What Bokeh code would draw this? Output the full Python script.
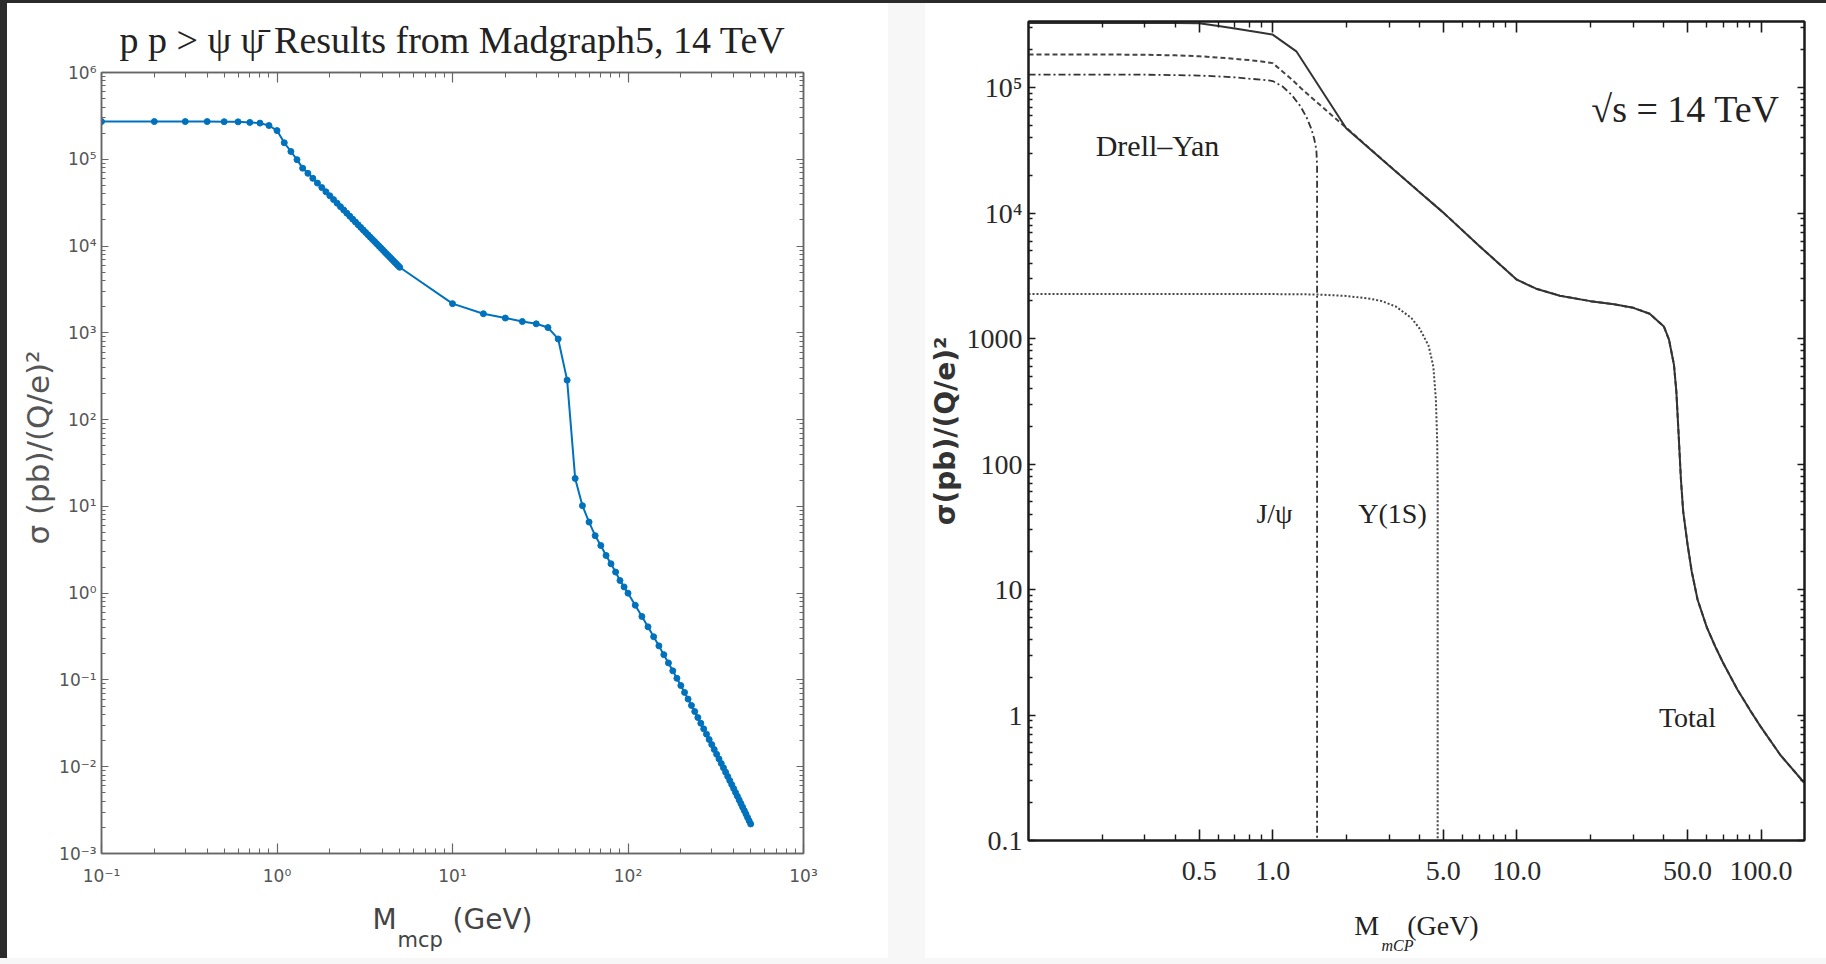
from bokeh.plotting import figure
from bokeh.models import Label, FixedTicker, LogAxis, Range1d, Spacer, CustomJSTickFormatter, Title
from bokeh.layouts import row, column
from bokeh.embed import file_html
from bokeh.resources import INLINE

# ---------------------------------------------------------------------------
# Madgraph5 scan: p p > psi psibar, 14 TeV  (mass in GeV, sigma in pb/(Q/e)^2)
# ---------------------------------------------------------------------------
mg_mass = [
    0.1, 0.2, 0.3, 0.4, 0.5, 0.6, 0.7, 0.8, 0.9, 1.0,
    1.1, 1.2, 1.3, 1.4, 1.5, 1.6, 1.7, 1.8, 1.9, 2.0,
    2.1, 2.2, 2.3, 2.4, 2.5, 2.6, 2.7, 2.8, 2.9, 3.0,
    3.1, 3.2, 3.3, 3.4, 3.5, 3.6, 3.7, 3.8, 3.9, 4.0,
    4.1, 4.2, 4.3, 4.4, 4.5, 4.6, 4.7, 4.8, 4.9, 5.0,
    10, 15, 20, 25, 30, 35, 40, 45,
    50, 55, 60, 65, 70, 75, 80, 85, 90, 95,
    100, 110, 120, 130, 140, 150, 160, 170, 180, 190,
    200, 210, 220, 230, 240, 250, 260, 270, 280, 290,
    300, 310, 320, 330, 340, 350, 360, 370, 380, 390,
    400, 410, 420, 430, 440, 450, 460, 470, 480, 490,
    500,
]
mg_sigma = [
    2.72e5, 2.72e5, 2.72e5, 2.72e5, 2.71e5, 2.70e5, 2.66e5, 2.61e5, 2.45e5, 2.14e5,
    1.55e5, 1.23e5, 9.9e4, 7.9e4, 6.89e4, 6.03e4, 5.315e4, 4.722e4, 4.222e4, 3.797e4,
    3.431e4, 3.117e4, 2.843e4, 2.603e4, 2.392e4, 2.206e4, 2.040e4, 1.892e4, 1.760e4, 1.640e4,
    1.533e4, 1.435e4, 1.347e4, 1.266e4, 1.192e4, 1.125e4, 1.063e4, 1.005e4, 9530, 9040,
    8590, 8170, 7785, 7420, 7085, 6770, 6475, 6200, 5940, 5695,
    2170, 1660, 1480, 1350, 1270, 1150, 850, 285,
    21, 10.2, 6.6, 4.6, 3.54, 2.72, 2.18, 1.75, 1.40, 1.18,
    1.00, 0.726, 0.539, 0.409, 0.315, 0.247, 0.1957, 0.1571, 0.1274, 0.1044,
    0.0862, 0.0718, 0.0602, 0.0508, 0.0432, 0.0369, 0.0317, 0.0273, 0.0237, 0.0206,
    0.0180, 0.0158, 0.0139, 0.0123, 0.0109, 0.0097, 0.00864, 0.00772, 0.00692, 0.00622,
    0.00560, 0.00505, 0.00457, 0.00414, 0.00376, 0.00342, 0.00312, 0.00285, 0.00260, 0.00238,
    0.00219,
]

# ---------------------------------------------------------------------------
# Millicharged-particle production channels, sqrt(s) = 14 TeV
# ---------------------------------------------------------------------------
total_mass = [
    0.1, 0.2, 0.3, 0.4, 0.5, 0.6, 0.7, 0.8, 0.9, 1.0,
    1.25, 2.0, 3.0, 4.0, 5.0, 7.0,
    10.0, 12.0, 15.0, 20.0, 25.0, 30.0, 35.0, 40.0,
    42.0, 44.0, 45.0, 46.0, 47.0, 48.0,
    50.0, 52.0, 55.0, 60.0, 65.0, 70.0,
    80.0, 90.0, 100.0, 120.0, 150.0,
]
total_sigma = [
    3.28e5, 3.28e5, 3.28e5, 3.28e5, 3.27e5, 3.10e5, 2.96e5, 2.84e5, 2.74e5, 2.65e5,
    1.95e5, 4.75e4, 2.39e4, 1.47e4, 1.01e4, 5500,
    2950, 2500, 2200, 1990, 1880, 1760, 1580, 1250,
    980, 620, 380, 170, 75, 42,
    23, 14, 8.3, 5.0, 3.5, 2.6,
    1.6, 1.1, 0.80, 0.48, 0.29,
]

# Drell-Yan: below 2 GeV it sits under the total, above it carries the total
dy_low_mass = [0.1, 0.2, 0.3, 0.4, 0.5, 0.6, 0.7, 0.8, 0.9, 1.0, 1.1, 1.2, 1.3, 1.5, 1.75, 2.0]
dy_low_sigma = [1.84e5, 1.84e5, 1.83e5, 1.81e5, 1.78e5, 1.74e5, 1.70e5, 1.66e5, 1.62e5, 1.57e5,
                1.34e5, 1.16e5, 1.00e5, 7.8e4, 6.0e4, 4.8e4]
dy_mass = dy_low_mass + total_mass[12:]
dy_sigma = dy_low_sigma + total_sigma[12:]

# J/psi decays (closes at half the J/psi mass)
jpsi_mass = [0.1, 0.2, 0.3, 0.4, 0.5, 0.6, 0.7, 0.8, 0.9, 1.0,
             1.1, 1.2, 1.3, 1.38, 1.44, 1.48, 1.51, 1.52, 1.52]
jpsi_sigma = [1.27e5, 1.27e5, 1.27e5, 1.26e5, 1.25e5, 1.23e5, 1.21e5, 1.18e5, 1.16e5, 1.13e5,
              1.02e5, 8.7e4, 7.1e4, 5.75e4, 4.7e4, 3.9e4, 3.2e4, 2.4e4, 0.05]

# Upsilon(1S) decays (closes at half the Upsilon mass)
ups_mass = [0.1, 0.5, 1.0, 1.5, 2.0, 2.5, 2.8, 3.2, 3.7, 4.0, 4.35, 4.55, 4.66, 4.72, 4.74, 4.74]
ups_sigma = [2270, 2270, 2265, 2250, 2190, 2080, 1990, 1800, 1460, 1200, 880, 600, 330, 150, 60, 0.05]

# Tick positions and labels
mg_xticks = [0.1, 1.0, 10.0, 100.0, 1000.0]
mg_xtick_labels = ["10⁻¹", "10⁰", "10¹", "10²", "10³"]
mg_yticks = [1e-3, 1e-2, 1e-1, 1.0, 10.0, 100.0, 1e3, 1e4, 1e5, 1e6]
mg_ytick_labels = ["10⁻³", "10⁻²", "10⁻¹", "10⁰", "10¹", "10²", "10³", "10⁴", "10⁵", "10⁶"]
ch_xticks = [0.5, 1.0, 5.0, 10.0, 50.0, 100.0]
ch_xtick_labels = ["0.5", "1.0", "5.0", "10.0", "50.0", "100.0"]
ch_yticks = [0.1, 1.0, 10.0, 100.0, 1000.0, 1e4, 1e5]
ch_ytick_labels = ["0.1", "1", "10", "100", "1000", "10⁴", "10⁵"]

EM = "\u2003"  # em space, keeps room for the subscript inside the axis label


def decade_minors(lo_exp, hi_exp):
    return [k * 10.0 ** e for e in range(lo_exp, hi_exp) for k in range(2, 10)]


def style_axis(ax, color, width, tick_in, minor_in, font, size, label_color, standoff):
    ax.axis_line_color = color
    ax.axis_line_width = width
    ax.major_tick_line_color = color
    ax.minor_tick_line_color = color
    ax.major_tick_line_width = width * 0.8
    ax.minor_tick_line_width = width * 0.7
    ax.major_tick_in = tick_in
    ax.major_tick_out = 0
    ax.minor_tick_in = minor_in
    ax.minor_tick_out = 0
    ax.major_label_text_font = font
    ax.major_label_text_font_size = size
    ax.major_label_text_color = label_color
    ax.major_label_standoff = standoff


def style_axis_label(ax, text, font, size, color, standoff, style="normal"):
    ax.axis_label = text
    ax.axis_label_text_font = font
    ax.axis_label_text_font_size = size
    ax.axis_label_text_color = color
    ax.axis_label_text_font_style = style
    ax.axis_label_standoff = standoff


def mirror_axis(ticker):
    # tick marks only, no labels: used for the top and right frame edges
    return LogAxis(ticker=ticker, formatter=CustomJSTickFormatter(code="return ''"))


def add_text(fig, text, x, y, size, font="Liberation Serif", color="#222222",
             align="left", baseline="alphabetic", style="normal"):
    fig.add_layout(Label(x=x, y=y - 12, x_units="canvas", y_units="canvas", text=text,
                         text_font=font, text_font_size=f"{size}px", text_color=color,
                         text_align=align, text_baseline=baseline,
                         text_font_style=style, level="overlay"))


# ---------------------------------------------------------------------------
# Left panel: Madgraph5 scan
# ---------------------------------------------------------------------------
left = figure(width=881, height=955, x_axis_type="log", y_axis_type="log",
              x_range=Range1d(0.1, 1000.0), y_range=Range1d(1e-3, 1e6),
              output_backend="svg", toolbar_location=None,
              min_border_left=94, min_border_right=85, min_border_top=69, min_border_bottom=105,
              background_fill_color="white", border_fill_color=None,
              outline_line_color="#666666", outline_line_width=1.5)
left.frame_align = False
left.grid.visible = False

mg_xt = FixedTicker(ticks=mg_xticks, minor_ticks=decade_minors(-1, 3))
mg_yt = FixedTicker(ticks=mg_yticks, minor_ticks=decade_minors(-3, 6))

l_bottom = left.below[0]
l_left = left.left[0]
l_bottom.ticker = mg_xt
l_left.ticker = mg_yt
l_bottom.major_label_overrides = dict(zip(mg_xticks, mg_xtick_labels))
l_left.major_label_overrides = dict(zip(mg_yticks, mg_ytick_labels))
l_top = mirror_axis(mg_xt)
l_right = mirror_axis(mg_yt)
left.add_layout(l_top, "above")
left.add_layout(l_right, "right")

style_axis(l_bottom, "#666666", 1.5, 10, 5, "DejaVu Sans", "17px", "#555555", 12)
style_axis(l_top, "#666666", 1.5, 10, 5, "DejaVu Sans", "10px", "#555555", 0)
style_axis(l_left, "#666666", 1.5, 7, 4, "DejaVu Sans", "17px", "#555555", 5)
style_axis(l_right, "#666666", 1.5, 7, 4, "DejaVu Sans", "10px", "#555555", 0)

style_axis_label(l_left, EM + "σ (pb)/(Q/e)²", "DejaVu Sans", "31px", "#555555", 0)
style_axis_label(l_bottom, "M" + EM + EM + "(GeV)", "DejaVu Sans", "28px", "#444444", 14)

left.add_layout(Title(text="p p > ψ ψ̄ Results from Madgraph5, 14 TeV", align="center",
                      text_font="Liberation Serif", text_font_size="38px",
                      text_font_style="normal", text_color="#222222", standoff=24), "above")
left.add_layout(Title(text="mcp", align="left", offset=296,
                      text_font="DejaVu Sans", text_font_size="21px",
                      text_font_style="normal", text_color="#444444", standoff=-27), "below")

left.line(mg_mass, mg_sigma, line_color="#0072BD", line_width=2)
left.scatter(mg_mass, mg_sigma, size=6, color="#0072BD")

# ---------------------------------------------------------------------------
# Right panel: production channels
# ---------------------------------------------------------------------------
right = figure(width=901, height=955, x_axis_type="log", y_axis_type="log",
               x_range=Range1d(0.1, 150.7), y_range=Range1d(0.1, 3.37e5),
               output_backend="svg", toolbar_location=None,
               min_border_left=101, min_border_right=22, min_border_top=18, min_border_bottom=118,
               background_fill_color="white", border_fill_color=None,
               outline_line_color="#1a1a1a", outline_line_width=2)
right.frame_align = False
right.grid.visible = False

ch_xt = FixedTicker(ticks=ch_xticks,
                    minor_ticks=[0.2, 0.3, 0.4, 0.6, 0.7, 0.8, 0.9, 2, 3, 4, 6, 7, 8, 9,
                                 20, 30, 40, 60, 70, 80, 90])
ch_yt = FixedTicker(ticks=ch_yticks, minor_ticks=decade_minors(-1, 6))

r_bottom = right.below[0]
r_left = right.left[0]
r_bottom.ticker = ch_xt
r_left.ticker = ch_yt
r_bottom.major_label_overrides = dict(zip(ch_xticks, ch_xtick_labels))
r_left.major_label_overrides = dict(zip(ch_yticks, ch_ytick_labels))
r_top = mirror_axis(ch_xt)
r_right = mirror_axis(ch_yt)
right.add_layout(r_top, "above")
right.add_layout(r_right, "right")

style_axis(r_bottom, "#1a1a1a", 2, 11, 6, "Liberation Serif", "28px", "#2a2a2a", 21)
style_axis(r_top, "#1a1a1a", 2, 11, 6, "Liberation Serif", "8px", "#2a2a2a", 0)
style_axis(r_left, "#1a1a1a", 2, 7, 4, "Liberation Serif", "28px", "#2a2a2a", 6)
style_axis(r_right, "#1a1a1a", 2, 7, 4, "Liberation Serif", "8px", "#2a2a2a", 0)

style_axis_label(r_left, "σ(pb)/(Q/e)²", "DejaVu Sans", "28px", "#333333", 2, style="bold")
style_axis_label(r_bottom, "M" + EM + "(GeV)", "Liberation Serif", "28px", "#222222", 27)

right.add_layout(Title(text="mCP", align="left", offset=353,
                       text_font="Liberation Serif", text_font_size="16px",
                       text_font_style="italic", text_color="#222222", standoff=-21), "below")

right.line(dy_mass, dy_sigma, line_color="#444444", line_width=2, line_dash="5 3")
right.line(jpsi_mass, jpsi_sigma, line_color="#333333", line_width=1.8, line_dash="7 3 2 3")
right.line(ups_mass, ups_sigma, line_color="#444444", line_width=2, line_dash="2 2")
right.line(total_mass, total_sigma, line_color="#333333", line_width=2)

add_text(right, "√s = 14 TeV", 760, 117, 38, align="center")
add_text(right, "Drell–Yan", 232, 154, 30, align="center")
add_text(right, "J/ψ", 349, 522, 28, align="center")
add_text(right, "Υ(1S)", 467, 522, 28, align="center")
add_text(right, "Total", 762, 726, 28, align="center")

# ---------------------------------------------------------------------------
# Page assembly
# ---------------------------------------------------------------------------
dark = {"background-color": "#2b2b2b"}
light = {"background-color": "#f7f7f7"}
page = column(
    Spacer(width=1826, height=3, styles=dark),
    row(Spacer(width=7, height=955, styles=dark), left,
        Spacer(width=37, height=955, styles=light), right),
    Spacer(width=1826, height=6, styles=light),
)

open("out.html", "w").write(file_html(page, INLINE))
